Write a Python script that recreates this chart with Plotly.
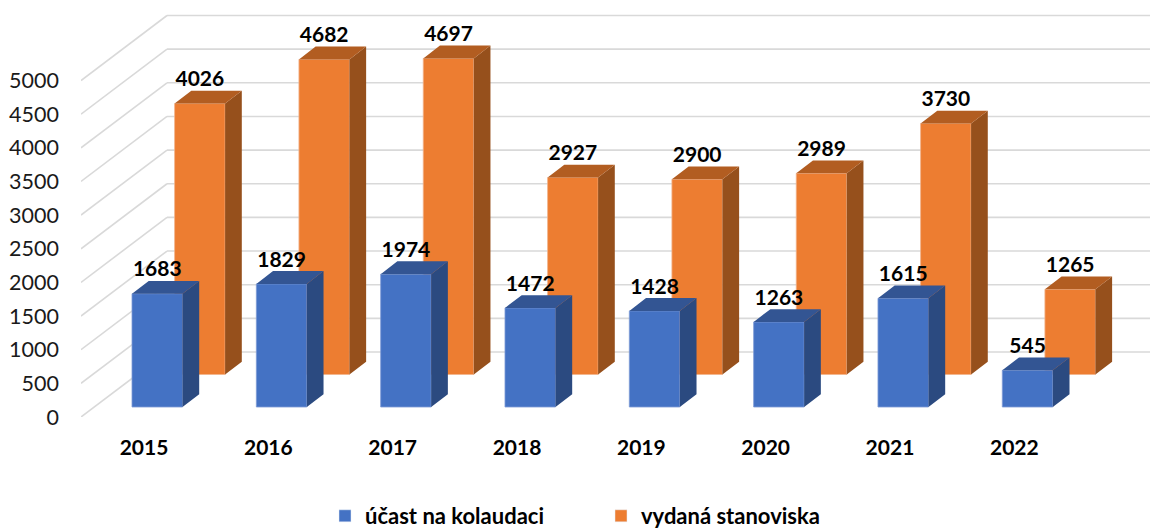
import plotly.graph_objects as go

years = ["2015", "2016", "2017", "2018", "2019", "2020", "2021", "2022"]
ucast = [1683, 1829, 1974, 1472, 1428, 1263, 1615, 545]
stanoviska = [4026, 4682, 4697, 2927, 2900, 2989, 3730, 1265]
y_ticks = [0, 500, 1000, 1500, 2000, 2500, 3000, 3500, 4000, 4500, 5000]

W, H = 1150, 529
PLOT_LEFT = 81
PLOT_BOTTOM = 417
PX_CAT = 124.33      # pixels per category
PX_VAL = 0.0673      # pixels per value unit
ZERO_TICK_PX = 144   # pixel x of the first category tick


def cx(px):
    return px / PX_CAT


def vy(px):
    return px / PX_VAL


x_range = [cx(PLOT_LEFT - ZERO_TICK_PX), cx(W - ZERO_TICK_PX)]
y_range = [0, vy(PLOT_BOTTOM)]

BAR_W = cx(50.5)
WALL_DX, WALL_DY = cx(86), vy(65)
DEPTH_DX, DEPTH_DY = cx(16.7), vy(12.8)
FONT = "Lato, Carlito, sans-serif"

series = [
    dict(name="vydaná stanoviska", vals=stanoviska, off=cx(174.6 - ZERO_TICK_PX), base=vy(42.5),
         front="#ed7d31", edge="#f3b48c", side="#96501c", top="#b25d21"),
    dict(name="účast na kolaudaci", vals=ucast, off=cx(132 - ZERO_TICK_PX), base=vy(10),
         front="#4472c4", edge="#7d9bd6", side="#2b4a80", top="#335593"),
]

fig = go.Figure()

# Floor + wall gridlines (below all marks)
for v in y_ticks:
    fig.add_shape(type="line", layer="below", xref="x", yref="y",
                  x0=x_range[0], y0=v, x1=x_range[0] + WALL_DX, y1=v + WALL_DY,
                  line=dict(color="#d9d9d9", width=1.6))
    fig.add_shape(type="line", layer="below", xref="x", yref="y",
                  x0=x_range[0] + WALL_DX, y0=v + WALL_DY, x1=x_range[1], y1=v + WALL_DY,
                  line=dict(color="#d9d9d9", width=1.6))

for s in series:
    sx, sy, tx, ty = [], [], [], []
    for i, v in enumerate(s["vals"]):
        l = i + s["off"]
        r = l + BAR_W
        b = s["base"]
        t = b + v
        sx += [r, r + DEPTH_DX, r + DEPTH_DX, r, r, None]
        sy += [b, b + DEPTH_DY, t + DEPTH_DY, t, b, None]
        tx += [l, l + DEPTH_DX, r + DEPTH_DX, r, l, None]
        ty += [t, t + DEPTH_DY, t + DEPTH_DY, t, t, None]
    fig.add_trace(go.Scatter(x=sx, y=sy, mode="lines", fill="toself", fillcolor=s["side"],
                             line=dict(width=0), showlegend=False, hoverinfo="skip"))
    fig.add_trace(go.Scatter(x=tx, y=ty, mode="lines", fill="toself", fillcolor=s["top"],
                             line=dict(width=0), showlegend=False, hoverinfo="skip"))

# Front faces
for s in series:
    fig.add_trace(go.Bar(
        x=list(range(len(years))), y=s["vals"], base=s["base"], width=BAR_W, offset=s["off"],
        name=s["name"], marker=dict(color=s["front"], line=dict(color=s["edge"], width=0.8)),
        showlegend=False,
    ))

# Legend entries, blue first
for s in series[::-1]:
    fig.add_trace(go.Bar(x=[None], y=[None], name=s["name"], marker=dict(color=s["front"])))

# Value labels
for s in series:
    fig.add_trace(go.Scatter(
        x=[i + s["off"] + BAR_W / 2 for i in range(len(years))],
        y=[s["base"] + v + vy(22.5) for v in s["vals"]],
        text=[str(v) for v in s["vals"]],
        mode="text", textposition="middle center",
        textfont=dict(family=FONT, size=21, color="#000000", weight="bold"),
        showlegend=False, hoverinfo="skip",
    ))

fig.update_layout(
    width=W, height=H,
    margin=dict(l=PLOT_LEFT, r=0, t=0, b=H - PLOT_BOTTOM, autoexpand=False),
    paper_bgcolor="white", plot_bgcolor="white",
    barmode="overlay",
    xaxis=dict(range=x_range, tickmode="array", tickvals=list(range(len(years))), ticktext=years,
               showgrid=False, zeroline=False, showline=False, ticks="",
               ticklabelstandoff=16,
               tickfont=dict(family=FONT, size=21, color="#000000", weight="bold")),
    yaxis=dict(range=y_range, tickmode="array", tickvals=y_ticks, ticktext=[str(v) for v in y_ticks],
               showgrid=False, zeroline=False, showline=False, ticks="",
               ticklabelstandoff=21,
               tickfont=dict(family=FONT, size=21.5, color="#1a1a1a")),
    legend=dict(orientation="h", xanchor="left", yanchor="top", x=(325 - PLOT_LEFT) / (W - PLOT_LEFT),
                y=-(495 - PLOT_BOTTOM) / PLOT_BOTTOM, entrywidth=231, entrywidthmode="pixels",
                traceorder="normal", bgcolor="rgba(0,0,0,0)",
                font=dict(family=FONT, size=22, color="#000000", weight="bold")),
)

fig.write_html("out.html", post_script="document.body.style.margin='0';",
               config={"displayModeBar": False})
